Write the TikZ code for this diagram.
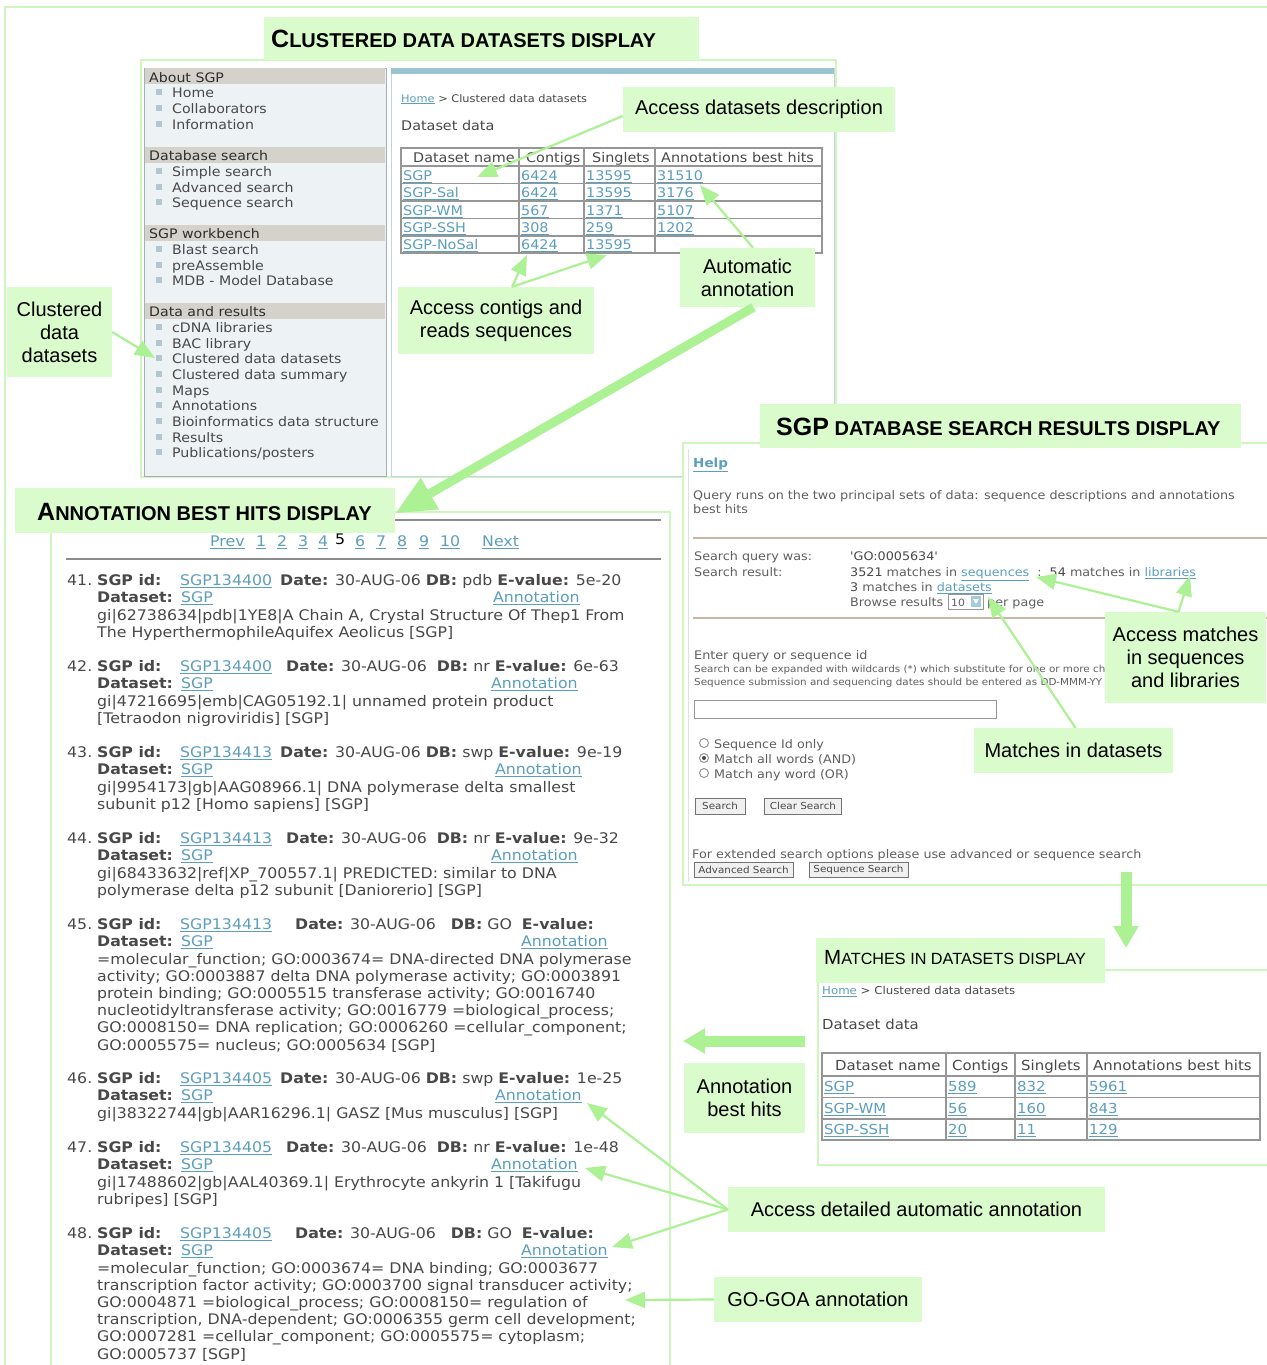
\documentclass[tikz,border=0pt]{standalone}
\usepackage{fontspec}
\setmainfont{Liberation Sans}
\newfontfamily\webf[FakeStretch=1.08]{DejaVu Sans}
\usetikzlibrary{arrows.meta}
\definecolor{callfill}{RGB}{218,251,203}
\definecolor{arrowc}{RGB}{172,242,148}
\definecolor{framec}{RGB}{206,247,192}
\definecolor{sidebg}{RGB}{237,242,245}
\definecolor{sidehd}{RGB}{212,210,202}
\definecolor{sideln}{RGB}{165,175,180}
\definecolor{webtxt}{RGB}{72,72,72}
\definecolor{qtxt}{RGB}{95,95,95}
\definecolor{hdtxt}{RGB}{45,45,45}
\definecolor{linkc}{RGB}{92,158,190}
\definecolor{bluebar}{RGB}{155,195,210}
\definecolor{panelln}{RGB}{195,212,218}
\definecolor{tblc}{RGB}{150,150,150}
\definecolor{rulec}{RGB}{200,182,165}
\definecolor{bulc}{RGB}{178,198,208}
\definecolor{annrule}{RGB}{140,140,140}
\newcommand\lk[1]{\textcolor{linkc}{\underline{#1}}}
\newcommand\tbig[1]{{\fontsize{25}{28}\selectfont #1}}
\newcommand\tsm[1]{{\fontsize{20}{24}\selectfont #1}}
\newcommand\mbig[1]{{\fontsize{20.5}{24}\selectfont #1}}
\newcommand\msm[1]{{\fontsize{16.2}{20}\selectfont #1}}
\tikzset{
  call/.style={fill=callfill, inner sep=0pt, align=center, font=\fontsize{20}{23}\selectfont, text=black},
  ttl/.style={fill=callfill, inner sep=0pt},
  side/.style={font=\webf\fontsize{13.1}{15.6}\selectfont, text=webtxt, inner sep=0pt, anchor=mid west, yshift=-3pt},
  sidehdt/.style={side, text=hdtxt},
  ann/.style={font=\webf\fontsize{14.6}{17.2}\selectfont, text=webtxt, inner sep=0pt, anchor=mid west, yshift=-3pt},
  tbl/.style={font=\webf\fontsize{13.3}{16}\selectfont, text=webtxt, inner sep=0pt, anchor=mid west, yshift=-3pt},
  crumb/.style={font=\webf\fontsize{10.5}{13}\selectfont, text=webtxt, inner sep=0pt, anchor=mid west, yshift=-2.5pt},
  qry/.style={font=\webf\fontsize{11.8}{14}\selectfont, text=qtxt, inner sep=0pt, anchor=mid west, yshift=-2.5pt},
  qsm/.style={font=\webf\fontsize{9.6}{11}\selectfont, text=qtxt, inner sep=0pt, anchor=mid west, yshift=-2pt},
  btn/.style={draw=black!55, fill=black!6, line width=1pt, inner sep=0pt, font=\webf\fontsize{9.6}{11}\selectfont, text=webtxt},
  thinarr/.style={draw=arrowc, line width=2.2pt, -{Triangle[length=20pt,width=16pt]}},
  thickarr/.style={draw=arrowc, line width=9pt, -{Triangle[length=40pt,width=34pt]}},
  blockarr/.style={draw=arrowc, line width=11pt, -{Triangle[length=22pt,width=24pt]}},
  frm/.style={draw=framec, line width=2pt},
}
\newcommand\entry[7]{%
  \node[ann] (num#1) at (67,#2) {#1.};
  \node[ann] (sid#1) at (97,#2) {\textbf{SGP id:}};
  \node[ann] (lnk#1) at (180,#2) {\lk{#3}};
  \node[ann] (dt#1) at (#4,#2) {#5};
  \node[ann] (ds#1) at (97,#2+17.2) {\textbf{Dataset:}};
  \node[ann] (dsl#1) at (181,#2+17.2) {\lk{SGP}};
  \node[ann] (an#1) at (#6,#2+17.2) {\lk{Annotation}};
  \foreach \t [count=\k from 2] in {#7} {\node[ann] (d#1-\k) at (97,#2+17.2*\k) {\t};}
}
\begin{document}
\begin{tikzpicture}[x=1pt,y=-1pt]
\useasboundingbox (0,0) rectangle (1266,1365);
\fill[white] (0,0) rectangle (1266,1365);
% outer frame
\draw[frm] (5,1366) -- (5,7) -- (1267,7);

% ---------- panel 1 ----------
\draw[frm] (141,60) rectangle (836,477);
\fill[sidebg] (144,68) rectangle (386,476);
\draw[sideln, line width=1pt] (144,68) rectangle (386,476);
\foreach \yy in {68,147,225,303} \fill[sidehd] (145,\yy) rectangle (385,\yy+16);
\node[sidehdt] (hAbout) at (149,76.5) {About SGP};
\node[sidehdt] (hDb) at (149,155) {Database search};
\node[sidehdt] (hWb) at (149,233) {SGP workbench};
\node[sidehdt] (hDr) at (149,311) {Data and results};
\foreach \t/\yy [count=\k] in {Home/92, Collaborators/108, Information/124, Simple search/171, Advanced search/187, Sequence search/202, Blast search/249, preAssemble/265, MDB - Model Database/280, cDNA libraries/327, BAC library/343, Clustered data datasets/358, Clustered data summary/374, Maps/390, Annotations/405, Bioinformatics data structure/421, Results/437} {
  \fill[bulc] (155.5,\yy-3) rectangle (161.5,\yy+3);
  \node[side] (si\k) at (172,\yy) {\t};
}
\fill[bulc] (155.5,449) rectangle (161.5,455);
\node[side] (siPub) at (172,452) {Publications/posters};
% content panel
\fill[white] (391,68) rectangle (834,476);
\draw[panelln, line width=1pt] (391,68) rectangle (834,476);
\fill[bluebar] (391,68) rectangle (834,74);
\node[crumb] (cr1) at (401,97) {\lk{Home} > Clustered data datasets};
\node[tbl] (dd1) at (401,125) {Dataset data};
\draw[tblc, line width=1.5pt] (401,148) rectangle (822,253);
\foreach \yy in {166,183.5,201,218.5,236} \draw[tblc, line width=1.2pt] (401,\yy) -- (822,\yy);
\foreach \xx in {519,584,655} \draw[tblc, line width=1.2pt] (\xx,148) -- (\xx,253);
\node[tbl] (th1) at (413,157) {Dataset name};
\node[tbl] (th2) at (526,157) {Contigs};
\node[tbl] (th3) at (592,157) {Singlets};
\node[tbl] (th4) at (661,157) {Annotations best hits};
\foreach \a/\b/\c/\d/\yy [count=\k] in {SGP/6424/13595/31510/175, SGP-Sal/6424/13595/3176/192, SGP-WM/567/1371/5107/210, SGP-SSH/308/259/1202/227} {
  \node[tbl] (ta\k) at (403,\yy) {\lk{\a}};
  \node[tbl] (tb\k) at (521,\yy) {\lk{\b}};
  \node[tbl] (tc\k) at (586,\yy) {\lk{\c}};
  \node[tbl] (td\k) at (657,\yy) {\lk{\d}};
}
\node[tbl] (ta5) at (403,244) {\lk{SGP-NoSal}};
\node[tbl] (tb5) at (521,244) {\lk{6424}};
\node[tbl] (tc5) at (586,244) {\lk{13595}};

% ---------- panel 3 (annotation best hits) ----------
\draw[frm] (51,1366) -- (51,512) -- (670,512) -- (670,1366);
\draw[annrule, line width=1.5pt] (66,520) -- (661,520);
\draw[annrule, line width=1.5pt] (66,559) -- (661,559);
\foreach \t/\xx [count=\k] in {Prev/210, 1/256, 2/277, 3/298, 4/318, 6/355, 7/376, 8/397, 9/419, 10/440, Next/482} {
  \node[ann] (pg\k) at (\xx,541) {\lk{\t}};
}
\node[ann, text=black] (pg5) at (335,539) {5};
\entry{41}{580}{SGP134400}{280}{\textbf{Date:} 30-AUG-06 \textbf{DB:} pdb \textbf{E-value:} 5e-20}{493}{{gi|62738634|pdb|1YE8|A Chain A, Crystal Structure Of Thep1 From},{The HyperthermophileAquifex Aeolicus [SGP]}}
\entry{42}{666}{SGP134400}{286}{\textbf{Date:} 30-AUG-06\ \ \textbf{DB:} nr \textbf{E-value:} 6e-63}{491}{{gi|47216695|emb|CAG05192.1| unnamed protein product},{[Tetraodon nigroviridis] [SGP]}}
\entry{43}{752}{SGP134413}{280}{\textbf{Date:} 30-AUG-06 \textbf{DB:} swp \textbf{E-value:} 9e-19}{495}{{gi|9954173|gb|AAG08966.1| DNA polymerase delta smallest},{subunit p12 [Homo sapiens] [SGP]}}
\entry{44}{838}{SGP134413}{286}{\textbf{Date:} 30-AUG-06\ \ \textbf{DB:} nr \textbf{E-value:} 9e-32}{491}{{gi|68433632|ref|XP\_700557.1| PREDICTED: similar to DNA},{polymerase delta p12 subunit [Daniorerio] [SGP]}}
\entry{45}{924}{SGP134413}{295}{\textbf{Date:} 30-AUG-06\ \ \ \textbf{DB:} GO\ \ \textbf{E-value:}}{521}{{=molecular\_function; GO:0003674= DNA-directed DNA polymerase},{activity; GO:0003887 delta DNA polymerase activity; GO:0003891},{protein binding; GO:0005515 transferase activity; GO:0016740},{nucleotidyltransferase activity; GO:0016779 =biological\_process;},{GO:0008150= DNA replication; GO:0006260 =cellular\_component;},{GO:0005575= nucleus; GO:0005634 [SGP]}}
\entry{46}{1078}{SGP134405}{280}{\textbf{Date:} 30-AUG-06 \textbf{DB:} swp \textbf{E-value:} 1e-25}{495}{{gi|38322744|gb|AAR16296.1| GASZ [Mus musculus] [SGP]}}
\entry{47}{1147}{SGP134405}{286}{\textbf{Date:} 30-AUG-06\ \ \textbf{DB:} nr \textbf{E-value:} 1e-48}{491}{{gi|17488602|gb|AAL40369.1| Erythrocyte ankyrin 1 [Takifugu},{rubripes] [SGP]}}
\entry{48}{1233}{SGP134405}{295}{\textbf{Date:} 30-AUG-06\ \ \ \textbf{DB:} GO\ \ \textbf{E-value:}}{521}{{=molecular\_function; GO:0003674= DNA binding; GO:0003677},{transcription factor activity; GO:0003700 signal transducer activity;},{GO:0004871 =biological\_process; GO:0008150= regulation of},{transcription, DNA-dependent; GO:0006355 germ cell development;},{GO:0007281 =cellular\_component; GO:0005575= cytoplasm;},{GO:0005737 [SGP]}}

% ---------- panel 2 (search results) ----------
\fill[white] (683,443) rectangle (1267,885);
\draw[frm] (1267,443) -- (683,443) -- (683,885) -- (1267,885);
\draw[black!12, line width=1pt] (688,449) -- (688,882);
\node[qry, font=\webf\bfseries\fontsize{12.5}{14}\selectfont] (help) at (693,462) {\lk{Help}};
\node[qry] (q1) at (693,494) {Query runs on the two principal sets of data: sequence descriptions and annotations};
\node[qry] (q2) at (693,508) {best hits};
\draw[rulec, line width=1.5pt] (693,538) -- (1267,538);
\node[qry] (q3) at (694,555) {Search query was:};
\node[qry, text=webtxt] (q4) at (850,555) {'GO:0005634'};
\node[qry] (q5) at (694,571) {Search result:};
\node[qry] (q6) at (850,571) {\textcolor{webtxt}{3521} matches in \lk{sequences}\ \ :\ \ \textcolor{webtxt}{54} matches in \lk{libraries}};
\node[qry] (q7) at (850,586) {\textcolor{webtxt}{3} matches in \lk{datasets}};
\node[qry] (q8) at (850,601) {Browse results};
\node[draw=tblc, line width=1pt, inner sep=0pt, minimum width=35pt, minimum height=15pt] (sel) at (965.5,601.5) {};
\node[qry, font=\webf\fontsize{10}{12}\selectfont] (sel10) at (951,601) {10};
\fill[linkc!55] (971,596) rectangle (981,607);
\fill[white] (973,599) -- (979,599) -- (976,604) -- cycle;
\node[qry] (q9) at (987,601) {per page};
\draw[rulec, line width=1.5pt] (693,618) -- (1267,618);
\node[qry] (q10) at (694,654) {Enter query or sequence id};
\node[qsm] (q11) at (694,668) {Search can be expanded with wildcards (*) which substitute for one or more ch};
\node[qsm] (q12) at (694,681) {Sequence submission and sequencing dates should be entered as DD-MMM-YY};
\draw[tblc, line width=1pt] (694,700) rectangle (996,718);
\foreach \t/\yy [count=\k] in {Sequence Id only/743, Match all words (AND)/758, Match any word (OR)/773} {
  \draw[tblc, line width=1pt] (704,\yy) circle (4.5pt);
  \node[qry] (rb\k) at (714,\yy) {\t};
}
\fill[webtxt] (704,758) circle (2pt);
\node[btn, minimum width=50pt, minimum height=16pt] (bS) at (720,806) {Search};
\node[btn, minimum width=77pt, minimum height=16pt] (bC) at (803,806) {Clear Search};
\node[qry] (q13) at (692,853) {For extended search options please use advanced or sequence search};
\node[btn, minimum width=99pt, minimum height=15pt] (bA) at (743.5,869.5) {Advanced Search};
\node[btn, minimum width=99pt, minimum height=15pt] (bQ) at (858.5,869.5) {Sequence Search};

% ---------- panel 4 (matches in datasets) ----------
\draw[frm] (816,970) -- (1267,970);
\draw[frm] (818,970) -- (818,1165) -- (1267,1165);
\node[crumb, font=\webf\fontsize{10.9}{13}\selectfont] (cr4) at (822,989) {\lk{Home} > Clustered data datasets};
\node[tbl, font=\webf\fontsize{13.8}{16}\selectfont] (dd4) at (822,1024) {Dataset data};
\draw[tblc, line width=1.5pt] (822,1053) rectangle (1260,1140);
\foreach \yy in {1076,1097.5,1119} \draw[tblc, line width=1.2pt] (822,\yy) -- (1260,\yy);
\foreach \xx in {946,1015,1087} \draw[tblc, line width=1.2pt] (\xx,1053) -- (\xx,1140);
\node[tbl, font=\webf\fontsize{13.8}{16}\selectfont] (mh1) at (835,1065) {Dataset name};
\node[tbl, font=\webf\fontsize{13.8}{16}\selectfont] (mh2) at (952,1065) {Contigs};
\node[tbl, font=\webf\fontsize{13.8}{16}\selectfont] (mh3) at (1021,1065) {Singlets};
\node[tbl, font=\webf\fontsize{13.8}{16}\selectfont] (mh4) at (1093,1065) {Annotations best hits};
\foreach \a/\b/\c/\d/\yy [count=\k] in {SGP/589/832/5961/1086, SGP-WM/56/160/843/1108, SGP-SSH/20/11/129/1129} {
  \node[tbl, font=\webf\fontsize{13.8}{16}\selectfont] (ma\k) at (824,\yy) {\lk{\a}};
  \node[tbl, font=\webf\fontsize{13.8}{16}\selectfont] (mb\k) at (948,\yy) {\lk{\b}};
  \node[tbl, font=\webf\fontsize{13.8}{16}\selectfont] (mc\k) at (1017,\yy) {\lk{\c}};
  \node[tbl, font=\webf\fontsize{13.8}{16}\selectfont] (md\k) at (1089,\yy) {\lk{\d}};
}

% ---------- titles ----------
\node[ttl, minimum width=435pt, minimum height=43pt] (t1box) at (481.5,38.5) {};
\node[anchor=base west, inner sep=0pt] (t1) at (271,47) {\bfseries\tbig{C}\tsm{LUSTERED DATA DATASETS DISPLAY}};
\node[ttl, minimum width=481pt, minimum height=44pt] (t2box) at (1000.5,426) {};
\node[anchor=base west, inner sep=0pt] (t2) at (776,435) {\bfseries\tbig{SGP}\tsm{ DATABASE SEARCH RESULTS DISPLAY}};
\node[ttl, minimum width=380pt, minimum height=45pt] (t3box) at (205,510.5) {};
\node[anchor=base west, inner sep=0pt] (t3) at (37,520) {\bfseries\tbig{A}\tsm{NNOTATION BEST HITS DISPLAY}};
\node[ttl, minimum width=289pt, minimum height=45pt] (t4box) at (960.5,960.5) {};
\node[anchor=base west, inner sep=0pt] (t4) at (824,964) {\mbig{M}\msm{ATCHES IN DATASETS DISPLAY}};

% ---------- callouts ----------
\node[call, minimum width=272pt, minimum height=45pt] (cADesc) at (759,109.5) {Access datasets description};
\node[call, minimum width=196pt, minimum height=67pt] (cContig) at (496,320.5) {Access contigs and\\reads sequences};
\node[call, minimum width=135pt, minimum height=59pt] (cAuto) at (747.5,277.5) {Automatic\\annotation};
\node[call, minimum width=105pt, minimum height=90pt] (cClust) at (59.5,332) {Clustered\\data\\datasets};
\node[call, minimum width=161pt, minimum height=91pt] (cMatch) at (1185.5,657.5) {Access matches\\in sequences\\and libraries};
\node[call, minimum width=199pt, minimum height=45pt] (cMids) at (1073.5,750.5) {Matches in datasets};
\node[call, minimum width=121pt, minimum height=70pt] (cABH) at (744.5,1098) {Annotation\\best hits};
\node[call, minimum width=377pt, minimum height=45pt] (cDet) at (916.5,1209.5) {Access detailed automatic annotation};
\node[call, minimum width=208pt, minimum height=45pt] (cGO) at (818,1299.5) {GO-GOA annotation};

% ---------- arrows ----------
\coordinate (tipADesc) at (477,177);
\coordinate (tipCont) at (527,255);
\coordinate (tipSing) at (607,255);
\coordinate (tipAuto) at (700,185);
\coordinate (tipClust) at (155,358);
\coordinate (tipSeq) at (1036,577);
\coordinate (tipLib) at (1190,576);
\coordinate (tipDs) at (988,597);
\coordinate (tipA46) at (587,1103);
\coordinate (tipA47) at (585,1168);
\coordinate (tipA48) at (612,1247);
\coordinate (tipGO) at (625,1300);
\coordinate (downA) at (1126,872);
\coordinate (downB) at (1126,948);
\coordinate (leftA) at (805,1041);
\coordinate (leftB) at (683,1041);
\draw[thinarr] ([yshift=-6.5pt]cADesc.west) -- (tipADesc);
\draw[thinarr] ([xshift=16pt]cContig.north) -- (tipCont);
\draw[thinarr] ([xshift=16pt]cContig.north) -- (tipSing);
\draw[thinarr] ([xshift=5.5pt]cAuto.north) -- (tipAuto);
\draw[thinarr] (cClust.east) -- (tipClust);
\draw[thinarr] ([xshift=-7pt]cMatch.north) -- (tipSeq);
\draw[thinarr] ([xshift=-7pt]cMatch.north) -- (tipLib);
\draw[thinarr] ([xshift=2pt]cMids.north) -- (tipDs);
\draw[thinarr] (cDet.west) -- (tipA46);
\draw[thinarr] (cDet.west) -- (tipA47);
\draw[thinarr] (cDet.west) -- (tipA48);
\draw[thinarr] (cGO.west) -- (tipGO);
\draw[thickarr] ([xshift=6pt]cAuto.south) -- ([yshift=-3pt]t3box.east);
\draw[blockarr] (downA) -- (downB);
\draw[blockarr] (leftA) -- (leftB);
\end{tikzpicture}
\end{document}
